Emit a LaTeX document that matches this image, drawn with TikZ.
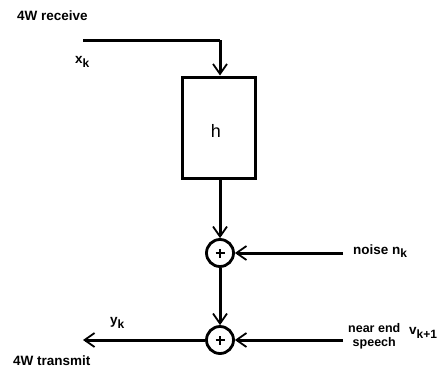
\documentclass[tikz,border=0pt]{standalone}
\usepackage{fontspec}
\setmainfont{Liberation Sans}
\usetikzlibrary{arrows.meta}
\newcommand{\lowsub}[1]{\raisebox{-3.5pt}{\fontsize{12}{12}\selectfont #1}}
\begin{document}
\begin{tikzpicture}[x=1pt,y=-1pt,
  wire/.style={line width=3pt,-{Straight Barb[length=10pt,width=14pt,line width=1.8pt]}},
  plain/.style={line width=3pt},
  plus/.style={line width=2.6pt},
  lbl/.style={inner sep=0pt,font=\fontsize{13.5}{15}\selectfont\bfseries},
  sumnode/.style={circle,draw,line width=2.8pt,minimum size=27pt,inner sep=0pt}]
\useasboundingbox (0,0) rectangle (447,370);
\coordinate (in) at (83,40);
\coordinate (corner) at (220,40);
\node[draw,line width=3pt,minimum width=73pt,minimum height=101pt,inner sep=0pt] (h) at (219,127.5) {};
\node[inner sep=0pt,font=\fontsize{18}{18}\selectfont] (hl) at (216,131) {h};
\node[sumnode] (s1) at (220,253) {};
\node[sumnode] (s2) at (220,340) {};
\foreach \s in {s1,s2} {
  \draw[plus] ([xshift=-4.5pt]\s.center) -- ([xshift=4.5pt]\s.center);
  \draw[plus] ([yshift=-4.5pt]\s.center) -- ([yshift=4.5pt]\s.center);
}
\coordinate (noise) at (343,253);
\coordinate (near) at (343,340);
\coordinate (out) at (83,340);
\draw[plain] (in) -- (corner);
\draw[wire] (corner) -- (h.north -| corner);
\draw[wire] (h.south -| s1) -- (s1);
\draw[wire] (noise) -- (s1);
\draw[wire] (s1) -- (s2);
\draw[wire] (near) -- (s2);
\draw[wire] (s2) -- (out);
\node[lbl,anchor=west] (rx) at (17,16) {4W receive};
\node[lbl,anchor=west] (xk) at (75,62) {x\lowsub{k}};
\node[lbl,anchor=west] (nz) at (353,251) {noise n\lowsub{k}};
\node[lbl,anchor=west,align=center,font=\fontsize{12.5}{14}\selectfont\bfseries] (ne) at (348,336) {near end\\speech};
\node[lbl,anchor=west] (vk) at (409,333) {v\lowsub{k+1}};
\node[lbl,anchor=west] (yk) at (110,323) {y\lowsub{k}};
\node[lbl,anchor=west] (tx) at (13,361) {4W transmit};
\end{tikzpicture}
\end{document}
